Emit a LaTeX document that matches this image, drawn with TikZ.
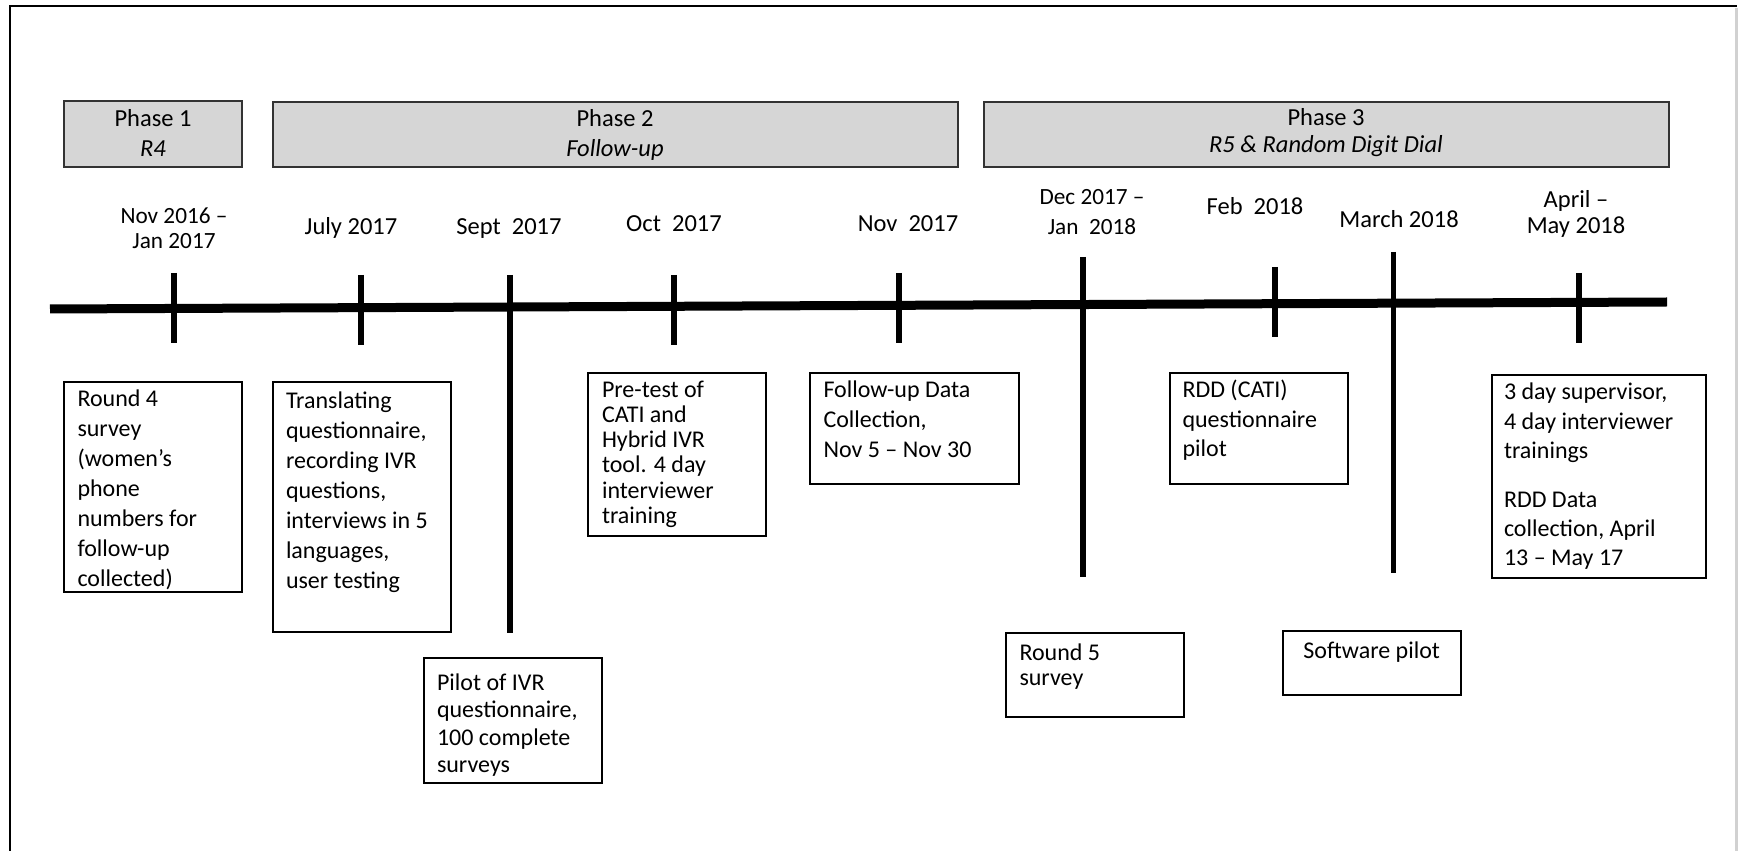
\documentclass[tikz,border=0pt]{standalone}
\usepackage{fontspec}
\setmainfont{Carlito}
\usetikzlibrary{fit}
\begin{document}
\begin{tikzpicture}[x=0.4pt,y=-0.4pt,
  phasebox/.style={draw=black!80, line width=0.8pt, fill=black!16, inner sep=0pt},
  phasetxt/.style={anchor=north, inner sep=0pt, align=center, font=\fontsize{9.8pt}{12pt}\selectfont},
  evbox/.style={draw=black, line width=0.8pt, inner sep=0pt},
  evtext/.style={anchor=north west, inner sep=0pt, align=left, font=\fontsize{9.6pt}{12pt}\selectfont},
  datelbl/.style={anchor=base, inner sep=0pt, font=\fontsize{9.8pt}{12pt}\selectfont},
  datetwo/.style={anchor=north, inner sep=0pt, align=center},
  tickln/.style={line width=2.2pt},
  axisln/.style={line width=3.6pt}]
\useasboundingbox (0,0) rectangle (1739,851);
% frame
\draw[line width=0.9pt] (10,851) -- (10,6) -- (1737,6);
\draw[line width=1.2pt, black!18] (1736.5,8) -- (1736.5,851);

% phase boxes
\node[phasebox, fit={(64,101)(242,167)}] (p1) {};
\node[phasebox, fit={(273,102)(958,167)}] (p2) {};
\node[phasebox, fit={(984,102)(1669,167)}] (p3) {};
\node[phasetxt] (p1t) at (153,104.6) {\strut Phase 1\\\textit{R4}};
\node[phasetxt] (p2t) at (615,104.6) {\strut Phase 2\\\textit{Follow-up}};
\node[phasetxt, font=\fontsize{9.8pt}{9.6pt}\selectfont] (p3t) at (1326,107.8) {\strut Phase 3\\\textit{R5 \& Random Digit Dial}};

% date labels
\node[datetwo, font=\fontsize{9.3pt}{10.2pt}\selectfont] (d1) at (174,205) {\strut Nov 2016 --\\Jan 2017};
\node[datelbl] (d2) at (351,235) {July 2017};
\node[datelbl] (d3) at (509,235) {Sept~\ 2017};
\node[datelbl] (d4) at (674,232) {Oct~\ 2017};
\node[datelbl] (d5) at (908,232) {Nov~\ 2017};
\node[datetwo, font=\fontsize{9.3pt}{12pt}\selectfont] (d6) at (1092,183.5) {\strut Dec 2017 --\\Jan~\ 2018};
\node[datelbl] (d7) at (1255,214.8) {Feb~\ 2018};
\node[datelbl] (d8) at (1399,227.8) {March 2018};
\node[datetwo, font=\fontsize{9.8pt}{10.4pt}\selectfont] (d9) at (1576,188.5) {\strut April --\\May 2018};

% timeline
\coordinate (tlL) at (50,309);
\coordinate (tlR) at (1667,302);
\draw[axisln] (tlL) -- (tlR);

% ticks
\coordinate (t1a) at (174,273);  \coordinate (t1b) at (174,343);
\coordinate (t2a) at (361,275);  \coordinate (t2b) at (361,345);
\coordinate (t3a) at (510,275);  \coordinate (t3b) at (510,633);
\coordinate (t4a) at (674,275);  \coordinate (t4b) at (674,345);
\coordinate (t5a) at (899,273);  \coordinate (t5b) at (899,343);
\coordinate (t6a) at (1083,257); \coordinate (t6b) at (1083,577);
\coordinate (t7a) at (1275,267); \coordinate (t7b) at (1275,337);
\coordinate (t8a) at (1393.5,252); \coordinate (t8b) at (1393.5,573);
\coordinate (t9a) at (1579,273); \coordinate (t9b) at (1579,343);
\foreach \i in {1,...,9} {\draw[tickln] (t\i a) -- (t\i b);}

% event boxes
\node[evbox, fit={(64,382)(242,592)}] (b1) {};
\node[evtext] (b1t) at (77,384.5) {\strut Round 4\\survey\\(women’s\\phone\\numbers for\\follow-up\\collected)};

\node[evbox, fit={(273,382)(451,632)}] (b2) {};
\node[evtext] (b2t) at (285.5,386.6) {\strut Translating\\questionnaire,\\recording IVR\\questions,\\interviews in 5\\languages,\\user testing};

\node[evbox, fit={(424,658)(602,783)}] (b3) {};
\node[evtext, font=\fontsize{9.6pt}{11pt}\selectfont] (b3t) at (436.5,670.7) {\strut Pilot of IVR\\questionnaire,\\100 complete\\surveys};

\node[evbox, fit={(588,373)(766,536)}] (b4) {};
\node[evtext, font=\fontsize{9.6pt}{10.1pt}\selectfont] (b4t) at (601.5,379) {\strut Pre-test of\\CATI and\\Hybrid IVR\\tool. 4 day\\interviewer\\training};

\node[evbox, fit={(810,373)(1019,484)}] (b5) {};
\node[evtext] (b5t) at (823,376.2) {\strut Follow-up Data\\Collection,\\Nov 5 -- Nov 30};

\node[evbox, fit={(1006,633)(1184,717)}] (b6) {};
\node[evtext, font=\fontsize{9.6pt}{10.2pt}\selectfont] (b6t) at (1019,641.7) {\strut Round 5\\survey};

\node[evbox, fit={(1170,373)(1348,484)}] (b7) {};
\node[evtext, font=\fontsize{9.6pt}{11.8pt}\selectfont] (b7t) at (1182,376.5) {\strut RDD (CATI)\\questionnaire\\pilot};

\node[evbox, fit={(1283,631)(1460.5,695)}] (b8) {};
\node[anchor=base, inner sep=0pt, font=\fontsize{9.6pt}{10.6pt}\selectfont] (b8t) at (1371.75,658.9) {Software pilot};

\node[evbox, fit={(1491.5,375)(1705.5,578)}] (b9) {};
\node[evtext, font=\fontsize{9.6pt}{11.7pt}\selectfont] (b9t) at (1503.5,379) {\strut 3 day supervisor,\\4 day interviewer\\trainings\\[7.8pt]RDD Data\\collection, April\\13 -- May 17};
\end{tikzpicture}
\end{document}
